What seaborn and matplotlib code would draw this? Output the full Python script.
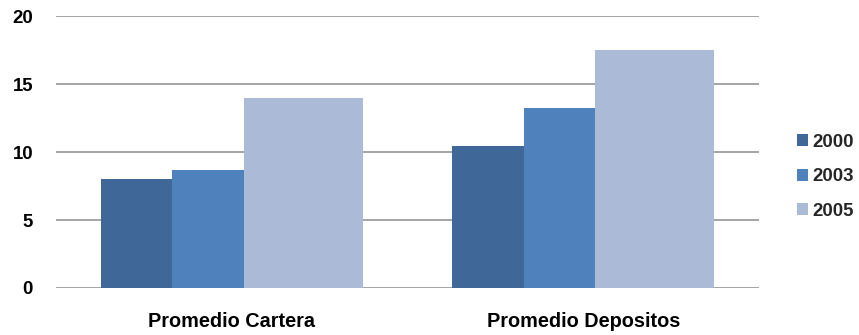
import matplotlib
matplotlib.use("Agg")
import matplotlib.pyplot as plt
import seaborn as sns
import pandas as pd

# Data
categories = ["Promedio Cartera", "Promedio Depositos"]
years = ["2000", "2003", "2005"]
values_2000 = [8.05, 10.45]
values_2003 = [8.65, 13.2]
values_2005 = [14.0, 17.5]
y_ticks = [0, 5, 10, 15, 20]

colors = ["#3F6797", "#4F81BD", "#AABAD7"]
bar_widths = [0.203, 0.203, 0.339]  # relative width of each year's bar

df = pd.DataFrame({
    "categoria": categories * 3,
    "anio": [y for y in years for _ in categories],
    "valor": values_2000 + values_2003 + values_2005,
})

sns.set_theme(style="white")
plt.rcParams["font.family"] = ["Liberation Sans", "DejaVu Sans"]
plt.rcParams["font.weight"] = "bold"

fig = plt.figure(figsize=(8.59, 3.35), dpi=100)
ax = fig.add_axes([0.0652, 0.1403, 0.8187, 0.8119])

sns.barplot(data=df, x="categoria", y="valor", hue="anio", hue_order=years,
            palette=colors, order=categories, width=sum(bar_widths),
            saturation=1, errorbar=None, ax=ax, legend=False)

# Re-lay out the bars within each group using the per-year widths
total = sum(bar_widths)
for i, cont in enumerate(ax.containers):
    offset = sum(bar_widths[:i])
    for bar in cont:
        center = round(bar.get_x() + bar.get_width() / 2)
        bar.set_x(center - total / 2 + offset)
        bar.set_width(bar_widths[i])
        bar.set_edgecolor("none")

ax.set_xlim(-0.5, 1.5)
ax.set_ylim(0, 20)
ax.set_yticks(y_ticks)
ax.set_yticklabels([str(t) for t in y_ticks])
ax.yaxis.grid(True, color="#8C8C8C", linewidth=1.1)
ax.set_axisbelow(True)
for s in ax.spines.values():
    s.set_visible(False)
ax.set_xlabel("")
ax.set_ylabel("")
ax.tick_params(axis="y", length=0, pad=16.5, labelsize=13.4, labelcolor="black")
ax.tick_params(axis="x", length=0, pad=17, labelsize=14.3, labelcolor="black")
for lbl in ax.get_xticklabels() + ax.get_yticklabels():
    lbl.set_fontweight("bold")

handles = [c.patches[0] for c in ax.containers]
leg = fig.legend(handles, years, loc="center left",
                 bbox_to_anchor=(0.9275, 0.4725), bbox_transform=fig.transFigure,
                 frameon=False, fontsize=13.4, handlelength=0.63, handleheight=0.63,
                 handletextpad=0.2, labelspacing=0.95, borderpad=0, borderaxespad=0)
for t in leg.get_texts():
    t.set_fontweight("bold")

fig.savefig("out.png", dpi=100)
